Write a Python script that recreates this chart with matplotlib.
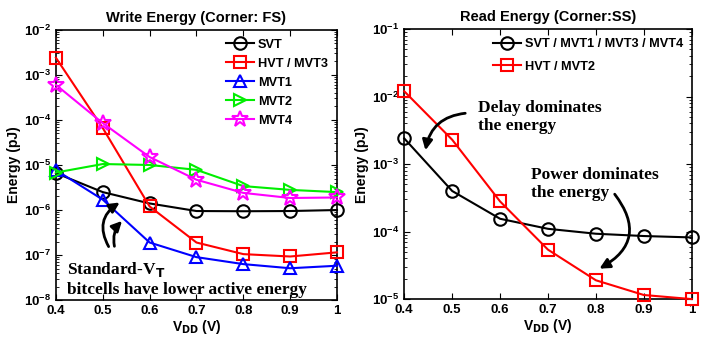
import matplotlib.pyplot as plt
from matplotlib.ticker import LogLocator, NullFormatter

vdd = [0.4, 0.5, 0.6, 0.7, 0.8, 0.9, 1.0]

# write energy (pJ), FS corner
w_svt = [6.6e-6, 2.5e-6, 1.4e-6, 9.5e-7, 9.4e-7, 9.5e-7, 1.0e-6]
w_hvt_mvt3 = [2.4e-3, 6.6e-5, 1.2e-6, 1.9e-7, 1.05e-7, 9.3e-8, 1.15e-7]
w_mvt1 = [7.7e-6, 1.7e-6, 1.9e-7, 9.0e-8, 6.3e-8, 5.1e-8, 5.8e-8]
w_mvt2 = [6.8e-6, 1.05e-5, 1.0e-5, 7.8e-6, 3.4e-6, 2.8e-6, 2.5e-6]
w_mvt4 = [6.0e-4, 8.5e-5, 1.5e-5, 4.7e-6, 2.4e-6, 1.85e-6, 1.9e-6]

# read energy (pJ), SS corner
r_svt = [2.4e-3, 4.0e-4, 1.55e-4, 1.1e-4, 9.3e-5, 8.6e-5, 8.2e-5]
r_hvt_mvt2 = [1.2e-2, 2.3e-3, 2.8e-4, 5.4e-5, 1.9e-5, 1.15e-5, 1.0e-5]

plt.rcParams['font.family'] = 'Liberation Sans'
plt.rcParams['font.weight'] = 'bold'
plt.rcParams['mathtext.default'] = 'bf'

fig = plt.figure(figsize=(7.08, 3.43), dpi=100)
ax1 = fig.add_axes([0.079, 0.125, 0.397, 0.788])
ax2 = fig.add_axes([0.571, 0.128, 0.406, 0.787])

mk = dict(markersize=9, markerfacecolor='none', markeredgewidth=1.5,
          linewidth=1.5, clip_on=False)

ax1.plot(vdd, w_svt, 'k-o', label='SVT', **mk)
ax1.plot(vdd, w_hvt_mvt3, '-s', color='red', label='HVT / MVT3', **mk)
ax1.plot(vdd, w_mvt1, '-^', color='blue', label='MVT1', **mk)
ax1.plot(vdd, w_mvt2, '->', color='#00ee00', label='MVT2', **mk)
ax1.plot(vdd, w_mvt4, '-*', color='magenta', label='MVT4',
         markersize=12, markerfacecolor='none', markeredgewidth=1.5,
         linewidth=1.5, clip_on=False)
ax1.set_ylim(1e-8, 1e-2)
ax1.set_title('Write Energy (Corner: FS)', fontsize=10.5, fontweight='bold', pad=6)

ax2.plot(vdd, r_svt, 'k-o', label='SVT / MVT1 / MVT3 / MVT4', **mk)
ax2.plot(vdd, r_hvt_mvt2, '-s', color='red', label='HVT / MVT2', **mk)
ax2.set_ylim(1e-5, 1e-1)
ax2.set_title('Read Energy (Corner:SS)', fontsize=10.5, fontweight='bold', pad=6)

for ax, lsp in ((ax1, 0.55), (ax2, 0.85)):
    ax.set_yscale('log')
    ax.set_xlim(0.4, 1.0)
    ax.set_xticks(vdd)
    ax.set_xticklabels(['0.4', '0.5', '0.6', '0.7', '0.8', '0.9', '1'])
    ax.yaxis.set_minor_locator(LogLocator(base=10, subs=range(2, 10), numticks=20))
    ax.yaxis.set_minor_formatter(NullFormatter())
    ax.tick_params(which='both', direction='in', top=True, right=True, labelsize=9.5)
    ax.tick_params(which='major', length=4)
    ax.tick_params(which='minor', length=2)
    ax.set_xlabel('V$_{DD}$ (V)', fontsize=10, fontweight='bold', labelpad=1)
    ax.set_ylabel('Energy (pJ)', fontsize=10, fontweight='bold', labelpad=2)
    for s in ax.spines.values():
        s.set_linewidth(1.2)
        s.set_zorder(0.5)
    ax.legend(loc='upper right', frameon=False, fontsize=9.2, handlelength=2.2,
              handletextpad=0.3, labelspacing=lsp, borderaxespad=0.3)

serif = dict(family='Liberation Serif', fontweight='bold', fontsize=12.5)

ax1.text(0.04, 0.097, 'Standard-V$_\\mathbf{T}$', transform=ax1.transAxes, **serif)
ax1.text(0.04, 0.022, 'bitcells have lower active energy', transform=ax1.transAxes, **serif)
ax1.annotate('', xy=(122, 142), xytext=(110, 94), xycoords='figure pixels',
             textcoords='figure pixels',
             arrowprops=dict(arrowstyle='-|>', color='k', lw=2, mutation_scale=15,
                             connectionstyle='arc3,rad=-0.5'))
ax1.annotate('', xy=(124, 124), xytext=(115, 94), xycoords='figure pixels',
             textcoords='figure pixels',
             arrowprops=dict(arrowstyle='-|>', color='k', lw=2, mutation_scale=15,
                             connectionstyle='arc3,rad=-0.3'))

ax2.text(478, 226, 'Delay dominates\nthe energy', transform=None, va='center',
         linespacing=1.1, **serif)
ax2.text(531, 159, 'Power dominates\nthe energy', transform=None, va='center',
         linespacing=1.1, **serif)
ax2.annotate('', xy=(425, 190), xytext=(468, 230), xycoords='figure pixels',
             textcoords='figure pixels',
             arrowprops=dict(arrowstyle='-|>', color='k', lw=2, mutation_scale=15,
                             connectionstyle='arc3,rad=0.4'))
ax2.annotate('', xy=(597, 73), xytext=(613, 151), xycoords='figure pixels',
             textcoords='figure pixels',
             arrowprops=dict(arrowstyle='-|>', color='k', lw=2, mutation_scale=15,
                             connectionstyle='arc3,rad=-0.6'))

fig.savefig('out.png', dpi=100)
